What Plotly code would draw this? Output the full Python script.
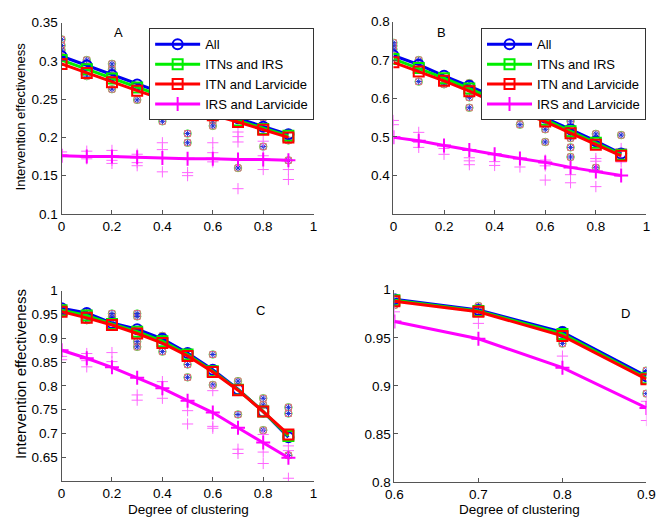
import plotly.graph_objects as go

# ---------------- data ----------------
X = [0.0, 0.1, 0.2, 0.3, 0.4, 0.5, 0.6, 0.7, 0.8, 0.9]
X_D = [0.6, 0.7, 0.8, 0.9]
SERIES = ["All", "ITNs and IRS", "ITN and Larvicide", "IRS and Larvicide"]

A_all = [0.306, 0.294, 0.281, 0.269, 0.257, 0.246, 0.235, 0.225, 0.214, 0.204]
A_itn_irs = [0.301, 0.289, 0.277, 0.265, 0.253, 0.242, 0.232, 0.222, 0.211, 0.202]
A_itn_larv = [0.296, 0.284, 0.272, 0.261, 0.250, 0.239, 0.229, 0.220, 0.210, 0.200]
A_irs_larv = [0.176, 0.175, 0.175, 0.174, 0.173, 0.172, 0.172, 0.171, 0.171, 0.170]
A_runs = [[0.328, 0.320, 0.314], [0.301, 0.280], [0.296, 0.289, 0.263], [0.249],
          [0.238, 0.221], [0.229, 0.205, 0.193], [0.254, 0.222, 0.215], [0.250, 0.160],
          [0.226, 0.188], [0.231, 0.196, 0.170]]
A_runs_irs_larv = [[0.181, 0.177], [0.182, 0.172], [0.183, 0.170, 0.166], [0.178, 0.167, 0.163],
                   [0.193, 0.184, 0.155], [0.154, 0.150], [0.193, 0.180, 0.168],
                   [0.207, 0.201, 0.194, 0.133], [0.195, 0.176, 0.158], [0.158, 0.145]]

B_all = [0.712, 0.688, 0.659, 0.633, 0.605, 0.578, 0.550, 0.520, 0.489, 0.457]
B_itn_irs = [0.703, 0.679, 0.653, 0.626, 0.598, 0.571, 0.545, 0.515, 0.485, 0.454]
B_itn_larv = [0.694, 0.670, 0.646, 0.619, 0.590, 0.565, 0.540, 0.510, 0.480, 0.451]
B_irs_larv = [0.499, 0.490, 0.478, 0.466, 0.455, 0.444, 0.434, 0.421, 0.410, 0.400]
B_runs = [[0.745, 0.737, 0.728], [0.700, 0.644], [0.637], [0.640, 0.603, 0.576], [0.572],
          [0.552, 0.532], [0.520, 0.487], [0.541, 0.497, 0.473, 0.448],
          [0.570, 0.508, 0.420], [0.572, 0.505]]
B_runs_irs_larv = [[0.543, 0.532], [0.512, 0.486, 0.473], [0.470, 0.455], [0.446, 0.438, 0.428],
                   [0.436, 0.426], [0.422], [0.440, 0.425, 0.388], [0.402, 0.381],
                   [0.444, 0.437, 0.371], [0.470, 0.445, 0.435]]

C_all = [0.963, 0.953, 0.932, 0.919, 0.899, 0.869, 0.834, 0.793, 0.746, 0.692]
C_itn_irs = [0.959, 0.948, 0.930, 0.914, 0.894, 0.866, 0.831, 0.792, 0.746, 0.695]
C_itn_larv = [0.956, 0.943, 0.928, 0.910, 0.890, 0.863, 0.829, 0.791, 0.746, 0.698]
C_irs_larv = [0.875, 0.858, 0.839, 0.817, 0.795, 0.769, 0.744, 0.712, 0.681, 0.649]
C_runs = [[0.958, 0.952], [0.955, 0.938], [0.952, 0.945, 0.938], [0.952, 0.946, 0.893, 0.882],
          [0.905, 0.872], [0.845, 0.818], [0.866, 0.802], [0.810, 0.740],
          [0.774, 0.760, 0.707], [0.755, 0.742, 0.654]]
C_runs_irs_larv = [[0.862, 0.855], [0.868, 0.853, 0.840], [0.870, 0.851], [0.781, 0.770],
                   [0.809, 0.774], [0.748, 0.720], [0.790, 0.715, 0.711], [0.667, 0.658],
                   [0.698, 0.661, 0.637], [0.674, 0.664, 0.606]]

D_all = [0.990, 0.979, 0.956, 0.910]
D_itn_irs = [0.989, 0.978, 0.954, 0.908]
D_itn_larv = [0.988, 0.977, 0.952, 0.907]
D_irs_larv = [0.967, 0.949, 0.919, 0.877]
D_runs = [[0.990, 0.984], [0.983, 0.978], [0.958, 0.944], [0.916, 0.892]]
D_runs_irs_larv = [[0.977], [0.965], [0.931], [0.884, 0.864]]

Y_TITLE = "Intervention effectiveness"
X_TITLE = "Degree of clustering"

# ---------------- styling ----------------
FONT = "Liberation Sans, Arial, sans-serif"
BLUE = "#0000f0"
GREEN = "#00ee00"
RED = "#ff0000"
MAGENTA = "#ff00ff"
COLORS = [BLUE, GREEN, RED, MAGENTA]
SYMBOLS = ["circle-open", "square-open", "square-open", "cross-thin-open"]

fig = go.Figure()


def flatten(xs, runs):
    px, py = [], []
    for x, vals in zip(xs, runs):
        for v in vals:
            px.append(x)
            py.append(v)
    return px, py


def add_panel(xs, lines, runs, runs_irs, xa, ya, legend=None):
    rx, ry = flatten(xs, runs)
    mx, my = flatten(xs, runs_irs)
    # replicate runs (below the mean lines)
    fig.add_trace(go.Scatter(x=rx, y=ry, mode="markers", xaxis=xa, yaxis=ya, showlegend=False,
                             marker=dict(symbol="circle-open", size=7.5, color="#44dd44",
                                         line=dict(width=1, color="#44dd44")), hoverinfo="skip"))
    fig.add_trace(go.Scatter(x=rx, y=ry, mode="markers", xaxis=xa, yaxis=ya, showlegend=False,
                             marker=dict(symbol="square-open", size=6, color="#e8707a",
                                         line=dict(width=1, color="#e8707a")), hoverinfo="skip"))
    fig.add_trace(go.Scatter(x=rx, y=ry, mode="markers", xaxis=xa, yaxis=ya, showlegend=False,
                             marker=dict(symbol="asterisk-open", size=5, color="#2030d8",
                                         line=dict(width=1, color="#2030d8")), hoverinfo="skip"))
    fig.add_trace(go.Scatter(x=mx, y=my, mode="markers", xaxis=xa, yaxis=ya, showlegend=False,
                             marker=dict(symbol="cross-thin-open", size=8, color="#ff66ff",
                                         line=dict(width=1, color="#ff66ff")), hoverinfo="skip"))
    for name, vals, col, sym in zip(SERIES, lines, COLORS, SYMBOLS):
        fig.add_trace(go.Scatter(
            x=xs, y=vals, name=name, mode="lines+markers", xaxis=xa, yaxis=ya,
            showlegend=legend is not None, legend=legend if legend else "legend",
            line=dict(color=col, width=3),
            marker=dict(symbol=sym, size=10, color=col, line=dict(width=2, color=col))))


add_panel(X, [A_all, A_itn_irs, A_itn_larv, A_irs_larv], A_runs, A_runs_irs_larv, "x", "y", "legend")
add_panel(X, [B_all, B_itn_irs, B_itn_larv, B_irs_larv], B_runs, B_runs_irs_larv, "x2", "y2", "legend2")
add_panel(X, [C_all, C_itn_irs, C_itn_larv, C_irs_larv], C_runs, C_runs_irs_larv, "x3", "y3")
add_panel(X_D, [D_all, D_itn_irs, D_itn_larv, D_irs_larv], D_runs, D_runs_irs_larv, "x4", "y4")

W, H = 672, 527


def dom_x(a, b):
    return [a / W, b / W]


def dom_y(top, bottom):
    return [1 - bottom / H, 1 - top / H]


axis_common = dict(showline=True, linecolor="#555555", linewidth=1, ticks="inside", ticklen=4,
                   tickcolor="#555555", showgrid=False, zeroline=False, mirror=False,
                   tickfont=dict(family=FONT, size=13.5, color="#000"))

x01 = dict(range=[0, 1], tickvals=[0, 0.2, 0.4, 0.6, 0.8, 1], ticktext=["0", "0.2", "0.4", "0.6", "0.8", "1"])

leg_common = dict(xanchor="left", yanchor="top", bgcolor="white", bordercolor="#333", borderwidth=1,
                  font=dict(family=FONT, size=13, color="#000"), tracegroupgap=0, itemwidth=45)

layout = dict(
    width=W, height=H, margin=dict(l=0, r=0, t=0, b=0),
    paper_bgcolor="white", plot_bgcolor="white",
    font=dict(family=FONT, size=13, color="#000"),
    xaxis=dict(domain=dom_x(54, 313), anchor="y", **x01, **axis_common),
    yaxis=dict(domain=dom_y(16, 213), anchor="x", range=[0.1, 0.35],
               tickvals=[0.1, 0.15, 0.2, 0.25, 0.3, 0.35],
               ticktext=["0.1", "0.15", "0.2", "0.25", "0.3", "0.35"], **axis_common),
    xaxis2=dict(domain=dom_x(395, 655), anchor="y2", **x01, **axis_common),
    yaxis2=dict(domain=dom_y(15, 213), anchor="x2", range=[0.3, 0.8],
                tickvals=[0.4, 0.5, 0.6, 0.7, 0.8],
                ticktext=["0.4", "0.5", "0.6", "0.7", "0.8"], **axis_common),
    xaxis3=dict(domain=dom_x(54, 313), anchor="y3", **x01, **axis_common),
    yaxis3=dict(domain=dom_y(292, 488), anchor="x3", range=[0.6, 1],
                tickvals=[0.65, 0.7, 0.75, 0.8, 0.85, 0.9, 0.95, 1],
                ticktext=["0.65", "0.7", "0.75", "0.8", "0.85", "0.9", "0.95", "1"], **axis_common),
    xaxis4=dict(domain=dom_x(396, 655), anchor="y4", range=[0.6, 0.9],
                tickvals=[0.6, 0.7, 0.8, 0.9], ticktext=["0.6", "0.7", "0.8", "0.9"], **axis_common),
    yaxis4=dict(domain=dom_y(291, 489), anchor="x4", range=[0.8, 1],
                tickvals=[0.8, 0.85, 0.9, 0.95, 1],
                ticktext=["0.8", "0.85", "0.9", "0.95", "1"], **axis_common),
    legend=dict(x=144 / W, y=1 - 22 / H, **leg_common),
    legend2=dict(x=485 / W, y=1 - 22 / H, **leg_common),
)
fig.update_layout(**layout)

ann = [
    dict(text="A", x=113 / W, y=1 - 26 / H, size=13),
    dict(text="B", x=444 / W, y=1 - 26 / H, size=13),
    dict(text="C", x=258 / W, y=1 - 312 / H, size=13),
    dict(text="D", x=633 / W, y=1 - 315 / H, size=13),
    dict(text=Y_TITLE, x=12 / W, y=1 - 113 / H, textangle=-90, size=13),
    dict(text=Y_TITLE, x=12 / W, y=1 - 378 / H, textangle=-90, size=15),
    dict(text=X_TITLE, x=184 / W, y=1 - 517 / H, size=13.5),
    dict(text=X_TITLE, x=525 / W, y=1 - 517 / H, size=13.5),
]
for a in ann:
    sz = a.pop("size")
    fig.add_annotation(xref="paper", yref="paper", showarrow=False, xanchor="center", yanchor="middle",
                       font=dict(family=FONT, size=sz, color="#000"), **a)

fig.write_html("out.html", config={"displayModeBar": False},
               post_script="document.body.style.margin='0';document.body.style.overflow='hidden';")
